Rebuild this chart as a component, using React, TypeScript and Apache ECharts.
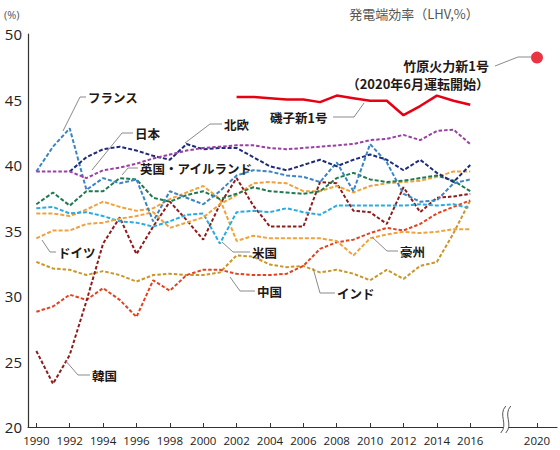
import React, { useEffect, useRef } from "react";
import * as echarts from "echarts";

// ---- data ----
const YEARS = [1990, 1991, 1992, 1993, 1994, 1995, 1996, 1997, 1998, 1999, 2000, 2001, 2002, 2003, 2004, 2005, 2006, 2007, 2008, 2009, 2010, 2011, 2012, 2013, 2014, 2015, 2016];
const X_LABEL_YEARS = [1990, 1992, 1994, 1996, 1998, 2000, 2002, 2004, 2006, 2008, 2010, 2012, 2014, 2016, 2020];
const Y_TICKS = [20, 25, 30, 35, 40, 45, 50];

const FRANCE = [39.5, 41.4, 42.8, 38.1, 39.0, 38.6, 38.9, 35.7, 38.0, 37.5, 37.0, 38.0, 39.2, 39.6, 39.5, 39.2, 39.1, 38.7, 40.2, 38.0, 41.6, 40.2, 37.8, 37.2, 37.3, 38.6, 38.9];
const JAPAN = [39.5, 39.5, 39.5, 39.0, 39.6, 39.8, 40.1, 40.5, 40.8, 41.1, 41.3, 41.4, 41.5, 41.5, 41.3, 41.2, 41.3, 41.4, 41.5, 41.6, 41.9, 42.0, 42.3, 41.9, 42.6, 42.7, 41.6];
const NORDIC = [null, null, 39.5, 40.6, 41.2, 41.4, 41.1, 40.7, 40.4, 41.6, 41.2, 41.3, 41.3, 40.6, 39.9, 39.6, 40.0, 40.4, 39.9, 40.4, 40.8, 40.4, 39.6, 40.4, 39.4, 38.7, 40.0];
const UK_IRELAND = [37.0, 37.9, 36.9, 38.0, 38.0, 39.0, 38.9, 37.5, 37.2, 37.7, 38.0, 37.4, 37.8, 38.3, 38.0, 37.9, 37.8, 38.0, 39.0, 39.4, 38.9, 38.7, 38.8, 39.0, 39.2, 38.8, 38.0];
const GERMANY = [34.4, 35.0, 35.0, 35.5, 35.6, 35.9, 36.1, 36.4, 35.2, 35.6, 36.0, 37.0, 37.7, 38.6, 38.7, 38.6, 38.0, 38.0, 38.4, 37.9, 38.4, 38.6, 38.7, 38.8, 39.1, 39.5, 39.5];
const AUSTRALIA = [36.3, 36.3, 36.1, 36.6, 37.2, 36.8, 36.5, 36.7, 37.4, 37.9, 38.4, 37.4, 34.2, 34.6, 34.4, 34.4, 34.4, 34.4, 34.2, 33.1, 34.4, 34.7, 34.9, 34.8, 34.9, 35.1, 35.1];
const USA = [36.7, 36.8, 36.3, 36.4, 36.1, 35.7, 35.6, 35.3, 35.7, 36.2, 36.3, 34.0, 36.4, 36.5, 36.4, 36.7, 36.4, 36.2, 36.9, 36.9, 36.9, 36.9, 36.9, 37.0, 36.9, 37.0, 36.7];
const CHINA = [28.8, 29.2, 30.1, 29.7, 30.6, 29.7, 28.4, 31.2, 30.4, 31.6, 32.0, 32.0, 31.7, 31.6, 31.6, 31.7, 32.3, 33.6, 34.1, 34.3, 34.8, 35.2, 35.0, 35.5, 36.3, 36.8, 37.3];
const KOREA = [25.8, 23.3, 25.5, 29.6, 34.0, 36.0, 33.2, 35.3, 37.2, 35.8, 34.3, 37.0, 39.0, 36.9, 35.3, 35.3, 35.3, 38.7, 38.6, 36.5, 36.4, 35.5, 38.3, 36.4, 37.5, 37.6, 37.8];
const INDIA = [32.6, 32.1, 32.0, 31.6, 31.9, 31.6, 31.1, 31.6, 31.7, 31.6, 31.6, 31.8, 33.1, 33.0, 32.4, 32.2, 32.3, 31.8, 32.0, 31.7, 31.2, 32.0, 31.3, 32.3, 32.6, 34.8, 37.3];

const ISOGO_YEARS = [2002, 2003, 2004, 2005, 2006, 2007, 2008, 2009, 2010, 2011, 2012, 2013, 2014, 2015, 2016];
const ISOGO = [45.2, 45.2, 45.1, 45.0, 45.0, 44.8, 45.3, 45.1, 44.9, 44.9, 43.8, 44.5, 45.3, 44.9, 44.6];
const TAKEHARA_YEAR = 2020;
const TAKEHARA = 48.2;

const X_MIN = 1989.5;
const X_MAX = 2021.2;
const BREAK_YEAR = 2018.1;

const JP = '"Noto Sans CJK JP", "Noto Sans", sans-serif';
const NUM = '"Open Sans", "Noto Sans", sans-serif';

const dashed = (name: string, values: (number | null)[], color: string, dash: number[] = [4, 2]) => ({
  name,
  type: "line",
  data: YEARS.map((y, i) => [y, values[i]]),
  symbol: "none",
  connectNulls: false,
  lineStyle: { color, width: 2, type: dash },
  z: 2,
});

export default function App() {
  const ref = useRef<HTMLDivElement>(null);

  useEffect(() => {
    document.body.style.margin = "0";
    const chart = echarts.init(ref.current!, null, { renderer: "svg" });
    chart.setOption({
      animation: false,
      backgroundColor: "#ffffff",
      grid: { left: 28, right: 3, top: 34, bottom: 23, containLabel: false, outerBoundsMode: "none" },
      xAxis: {
        type: "value",
        min: X_MIN,
        max: X_MAX,
        splitLine: { show: false },
        axisLine: { show: true, lineStyle: { color: "#333", width: 1.2 } },
        axisTick: { show: true, inside: true, length: 4, customValues: X_LABEL_YEARS, lineStyle: { color: "#333", width: 1 } },
        axisLabel: {
          customValues: X_LABEL_YEARS,
          color: "#222",
          fontSize: 11.5,
          fontFamily: NUM,
          margin: 7,
          formatter: (v: number) => String(v),
        },
      },
      yAxis: {
        type: "value",
        min: 20,
        max: 50,
        interval: 5,
        splitLine: { show: false },
        axisLine: { show: true, lineStyle: { color: "#333", width: 1.2 } },
        axisTick: { show: false },
        axisLabel: {
          color: "#222",
          fontSize: 15,
          fontFamily: NUM,
          margin: 6,
          customValues: Y_TICKS,
        },
      },
      series: [
        dashed("インド", INDIA, "#c9962a", [3.5, 2]),
        dashed("中国", CHINA, "#e2431e", [3.5, 2]),
        dashed("韓国", KOREA, "#8c1d1d", [3.5, 2]),
        dashed("豪州", AUSTRALIA, "#f2a23a"),
        dashed("米国", USA, "#29aae2"),
        dashed("ドイツ", GERMANY, "#eea13c"),
        dashed("英国・アイルランド", UK_IRELAND, "#1e7a4f"),
        dashed("フランス", FRANCE, "#3a84c4"),
        dashed("北欧", NORDIC, "#1f2a7a"),
        dashed("日本", JAPAN, "#9b3fa6", [3.5, 2]),
        {
          name: "磯子新1号",
          type: "line",
          data: ISOGO_YEARS.map((y, i) => [y, ISOGO[i]]),
          symbol: "none",
          lineStyle: { color: "#e60012", width: 2.5 },
          z: 3,
        },
        {
          name: "竹原火力新1号",
          type: "scatter",
          data: [[TAKEHARA_YEAR, TAKEHARA]],
          symbol: "circle",
          symbolSize: 12,
          itemStyle: { color: "#e60012" },
          z: 4,
        },
      ],
    });

    const bx = chart.convertToPixel({ xAxisIndex: 0 }, BREAK_YEAR) as number;
    const by = chart.convertToPixel({ yAxisIndex: 0 }, 20) as number;

    const leader = (pts: number[][]) => ({
      type: "polyline",
      z: 50,
      shape: { points: pts },
      style: { stroke: "#8a8a8a", lineWidth: 1, fill: "none" },
    });
    const label = (text: string, x: number, y: number, align = "left", size = 12.5) => ({
      type: "text",
      z: 50,
      x,
      y,
      style: {
        text,
        fill: "#231815",
        font: `bold ${size}px ${JP}`,
        textAlign: align,
        textVerticalAlign: "middle",
      },
    });

    const breakCurve = (d: number) => ({
      type: "bezierCurve",
      z: 60,
      shape: {
        x1: bx + d + 3, y1: by - 21,
        cpx1: bx + d - 5, cpy1: by - 12,
        cpx2: bx + d + 6, cpy2: by - 3,
        x2: bx + d - 2, y2: by + 6,
      },
      style: { stroke: "#555", lineWidth: 1, fill: "none" },
    });

    chart.setOption({
      graphic: [
        {
          type: "text", z: 50, x: 4, y: 14,
          style: { text: "(%)", fill: "#555", font: `11px ${NUM}`, textVerticalAlign: "middle" },
        },
        {
          type: "text", z: 50, x: 414, y: 13,
          style: { text: "発電端効率（LHV,%）", fill: "#555", font: `13px ${JP}`, textAlign: "center", textVerticalAlign: "middle" },
        },
        label("フランス", 88, 97),
        leader([[86, 97], [80, 97], [63, 131]]),
        label("日本", 135, 133),
        leader([[133, 133], [122, 133], [92, 170]]),
        label("北欧", 224, 124),
        leader([[222, 124], [210, 124], [185, 143]]),
        label("英国・アイルランド", 140, 168),
        leader([[138, 168], [128, 168], [122, 175]]),
        label("ドイツ", 58, 252),
        leader([[56, 252], [50, 252], [42, 240]]),
        label("米国", 252, 252),
        leader([[250, 252], [233, 252], [222, 242]]),
        label("中国", 257, 291),
        leader([[255, 291], [240, 291], [230, 277]]),
        label("韓国", 92, 375),
        leader([[90, 375], [78, 375], [65, 360]]),
        label("豪州", 400, 251),
        leader([[398, 251], [387, 251], [372, 237]]),
        label("インド", 337, 293),
        leader([[335, 293], [320, 293], [313, 268]]),
        label("磯子新1号", 270, 117),
        leader([[333, 117], [354, 117], [364, 103]]),
        label("竹原火力新1号", 489, 65, "right", 13),
        label("（2020年6月運転開始）", 489, 83, "right", 13),
        leader([[495, 66], [518, 57], [532, 57]]),
        {
          type: "rect", z: 59,
          shape: { x: bx - 1.3, y: by - 2, width: 4.4, height: 4 },
          style: { fill: "#ffffff", stroke: "none" },
        },
        breakCurve(-2.5),
        breakCurve(2.5),
      ],
    });

    return () => chart.dispose();
  }, []);

  return <div ref={ref} style={{ width: 560, height: 450 }} />;
}
